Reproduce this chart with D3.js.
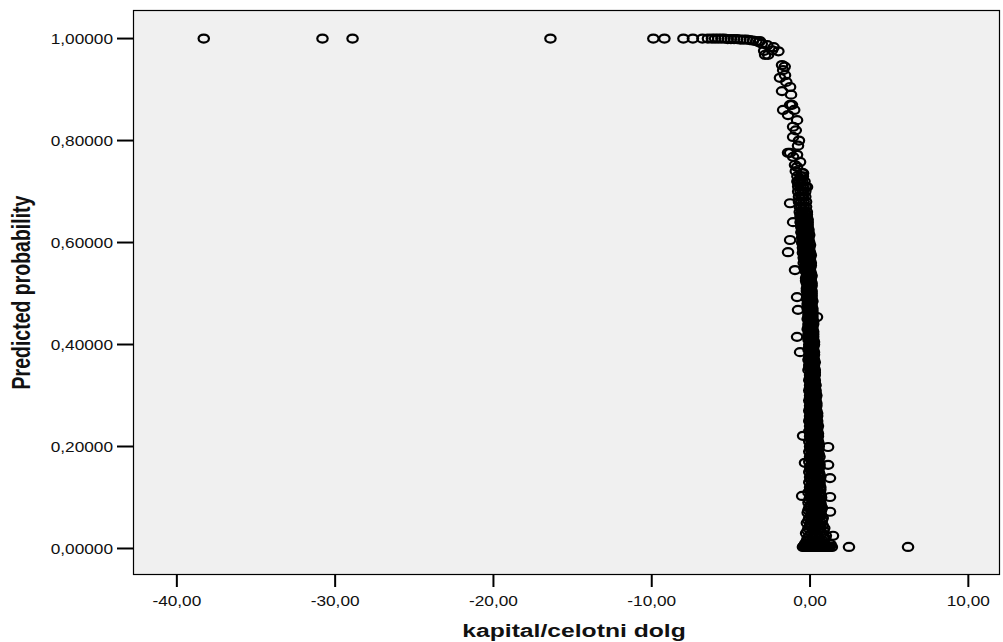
<!DOCTYPE html>
<html>
<head>
<meta charset="utf-8">
<script src="https://cdn.jsdelivr.net/npm/d3@7"></script>
<style>
  body { margin: 0; background: #fff; }
  text { font-family: "Liberation Sans", Arial, sans-serif; fill: #111; }
</style>
</head>
<body>
<svg id="chart" width="1003" height="642"></svg>
<script>
// isolated cases at the top plateau (kapital/celotni dolg, predicted probability)
var farLeft = [
  [-38.3, 1.000], [-30.8, 1.000], [-28.9, 1.000], [-16.4, 1.000],
  [-9.9, 1.000], [-9.2, 1.000], [-8.0, 1.000], [-7.4, 1.000], [-6.8, 1.000]
];

var plateau = [
  [-6.45, 1.000], [-6.2, 1.000], [-6.0, 1.000], [-5.8, 1.000], [-5.6, 1.000],
  [-5.4, 1.000], [-5.2, 0.999], [-5.0, 0.999], [-4.8, 0.999], [-4.6, 0.999],
  [-4.4, 0.998], [-4.2, 0.998], [-4.0, 0.998], [-3.8, 0.997], [-3.6, 0.996],
  [-3.4, 0.995], [-3.25, 0.993], [-3.05, 0.990]
];

var bend = [
  [-3.16, 0.995], [-2.9, 0.976], [-2.7, 0.987], [-2.65, 0.968], [-2.84, 0.968],
  [-2.4, 0.977], [-2.3, 0.983], [-2.0, 0.975], [-1.77, 0.948], [-1.6, 0.945],
  [-1.7, 0.938], [-1.9, 0.923], [-1.58, 0.928], [-1.5, 0.915], [-1.26, 0.905],
  [-1.77, 0.897], [-1.2, 0.890], [-1.26, 0.870], [-1.14, 0.870], [-1.7, 0.860],
  [-1.0, 0.860], [-1.39, 0.850], [-0.82, 0.840], [-1.07, 0.827], [-0.9, 0.820],
  [-1.07, 0.807], [-0.7, 0.800], [-0.76, 0.790], [-1.39, 0.776], [-1.26, 0.776],
  [-0.82, 0.772], [-1.07, 0.768], [-0.63, 0.758], [-0.95, 0.752], [-0.82, 0.748],
  [-0.9, 0.740], [-0.5, 0.736], [-0.44, 0.736], [-0.6, 0.725], [-0.76, 0.717],
  [-0.19, 0.709]
];

// dense column: [predicted probability, kapital values at that level]
var coreRows = [
  [0.01, -0.30, 0.05, 0.45, 0.85], [0.02, -0.15, 0.20, 0.55, 0.95],
  [0.03, -0.25, 0.10, 0.40, 0.75], [0.04, -0.10, 0.25, 0.60, 0.90],
  [0.05, -0.20, 0.05, 0.35, 0.70], [0.06, -0.05, 0.20, 0.50, 0.80],
  [0.07, -0.15, 0.10, 0.40, 0.65], [0.08, -0.05, 0.25, 0.50, 0.75],
  [0.09, -0.10, 0.15, 0.35, 0.65], [0.10, 0.00, 0.20, 0.45, 0.70],
  [0.11, -0.10, 0.10, 0.35, 0.60], [0.12, 0.00, 0.25, 0.45, 0.65],
  [0.13, -0.05, 0.15, 0.35, 0.60], [0.14, 0.00, 0.20, 0.40, 0.65],
  [0.15, -0.05, 0.10, 0.30, 0.55], [0.16, 0.00, 0.20, 0.40, 0.60],
  [0.17, -0.05, 0.15, 0.35, 0.55], [0.18, 0.00, 0.20, 0.40, 0.60],
  [0.19, -0.05, 0.10, 0.30, 0.50], [0.20, 0.00, 0.20, 0.35, 0.55],
  [0.21, -0.05, 0.10, 0.30, 0.50], [0.22, 0.00, 0.15, 0.35, 0.50],
  [0.23, -0.05, 0.10, 0.25, 0.45], [0.24, 0.00, 0.15, 0.30, 0.50],
  [0.25, -0.05, 0.10, 0.25, 0.45], [0.26, 0.00, 0.15, 0.30, 0.45],
  [0.27, -0.05, 0.05, 0.20, 0.40], [0.28, 0.00, 0.15, 0.25, 0.40],
  [0.29, -0.05, 0.05, 0.20, 0.35], [0.30, 0.00, 0.10, 0.25, 0.40],
  [0.31, -0.05, 0.05, 0.20, 0.35], [0.32, 0.00, 0.10, 0.20, 0.35],
  [0.33, -0.05, 0.05, 0.15, 0.30], [0.34, 0.00, 0.10, 0.20, 0.30],
  [0.35, -0.10, 0.05, 0.15, 0.30], [0.36, -0.05, 0.05, 0.15, 0.25],
  [0.37, -0.10, 0.00, 0.10, 0.25], [0.38, -0.05, 0.05, 0.15, 0.25],
  [0.39, -0.10, 0.00, 0.10, 0.20], [0.40, -0.05, 0.05, 0.15, 0.25],
  [0.41, -0.10, 0.00, 0.10, 0.20], [0.42, -0.10, 0.00, 0.10, 0.20],
  [0.43, -0.15, -0.05, 0.05, 0.15], [0.44, -0.10, 0.00, 0.10, 0.20],
  [0.45, -0.15, -0.05, 0.05, 0.15], [0.46, -0.10, 0.00, 0.10, 0.15],
  [0.47, -0.15, -0.05, 0.05, 0.15], [0.48, -0.15, -0.05, 0.05, 0.10],
  [0.49, -0.20, -0.10, 0.00, 0.10], [0.50, -0.15, -0.05, 0.05, 0.10],
  [0.51, -0.20, -0.10, 0.00, 0.05], [0.52, -0.20, -0.10, 0.00, 0.10],
  [0.53, -0.25, -0.15, -0.05, 0.05], [0.54, -0.20, -0.10, 0.00, 0.05],
  [0.55, -0.35, -0.25, -0.10, 0.00], [0.56, -0.40, -0.25, -0.10, 0.05],
  [0.57, -0.40, -0.30, -0.15, 0.00], [0.58, -0.45, -0.30, -0.15, 0.00],
  [0.59, -0.45, -0.35, -0.20, -0.05], [0.60, -0.50, -0.35, -0.20, -0.05],
  [0.61, -0.50, -0.40, -0.25, -0.10], [0.62, -0.55, -0.40, -0.25, -0.10],
  [0.63, -0.55, -0.45, -0.30, -0.15], [0.64, -0.60, -0.45, -0.30, -0.15],
  [0.65, -0.60, -0.50, -0.35, -0.20], [0.66, -0.65, -0.50, -0.35, -0.20],
  [0.67, -0.65, -0.55, -0.40, -0.25], [0.68, -0.70, -0.55, -0.40, -0.25],
  [0.69, -0.70, -0.55, -0.45, -0.30], [0.70, -0.75, -0.60, -0.45, -0.30],
  [0.71, -0.75, -0.60, -0.45, -0.30], [0.72, -0.80, -0.65, -0.50, -0.35],
  [0.73, -0.80, -0.60, -0.45]
];

// cases lying between the rows above
var coreHalfRows = [
  [0.005, -0.40, -0.10, 0.30, 0.65, 1.05], [0.015, -0.20, 0.15, 0.50, 0.80],
  [0.025, -0.05, 0.30, 0.65, 1.00], [0.035, -0.15, 0.20, 0.50, 0.85],
  [0.045, 0.00, 0.30, 0.55, 0.80], [0.055, -0.10, 0.15, 0.45, 0.75],
  [0.065, 0.05, 0.30, 0.55, 0.70], [0.075, -0.10, 0.20, 0.45, 0.70],
  [0.085, 0.05, 0.30, 0.55, 0.68], [0.095, -0.05, 0.20, 0.40, 0.60],
  [0.105, 0.10, 0.30, 0.55, 0.68], [0.115, 0.00, 0.20, 0.45, 0.65],
  [0.125, 0.10, 0.30, 0.50, 0.60], [0.135, 0.05, 0.25, 0.45, 0.55],
  [0.145, 0.10, 0.30, 0.50, 0.60], [0.155, 0.05, 0.20, 0.40, 0.50],
  [0.165, 0.10, 0.30, 0.45, 0.60], [0.175, 0.05, 0.25, 0.40, 0.50],
  [0.185, 0.10, 0.30, 0.45, 0.55], [0.195, 0.05, 0.20, 0.40, 0.50],
  [0.205, 0.10, 0.25, 0.40, 0.55], [0.215, 0.05, 0.20, 0.35, 0.45],
  [0.225, 0.05, 0.25, 0.40, 0.50], [0.235, 0.05, 0.20, 0.35, 0.45],
  [0.245, 0.05, 0.20, 0.35, 0.45], [0.255, 0.00, 0.20, 0.30, 0.40],
  [0.265, 0.05, 0.20, 0.35, 0.45], [0.275, 0.00, 0.10, 0.25, 0.35],
  [0.285, 0.05, 0.20, 0.30, 0.40], [0.295, 0.00, 0.15, 0.25, 0.35],
  [0.305, 0.05, 0.15, 0.30, 0.35], [0.315, 0.00, 0.10, 0.25, 0.30],
  [0.325, 0.05, 0.15, 0.25, 0.30], [0.335, 0.00, 0.10, 0.20, 0.25],
  [0.345, 0.05, 0.15, 0.25, 0.30], [0.355, -0.05, 0.10, 0.20, 0.25],
  [0.365, 0.00, 0.10, 0.20, 0.30], [0.375, -0.05, 0.05, 0.15, 0.20],
  [0.385, 0.00, 0.10, 0.20, 0.25], [0.395, -0.05, 0.05, 0.15, 0.20],
  [0.405, 0.00, 0.10, 0.20, 0.25], [0.415, -0.05, 0.05, 0.15, 0.20],
  [0.425, -0.05, 0.05, 0.15, 0.20], [0.435, -0.10, 0.00, 0.10, 0.15],
  [0.445, -0.05, 0.05, 0.15, 0.20], [0.455, -0.10, 0.00, 0.10, 0.15],
  [0.465, -0.10, 0.00, 0.10, 0.15], [0.475, -0.15, -0.05, 0.05, 0.10],
  [0.485, -0.10, 0.00, 0.05, 0.15], [0.495, -0.15, -0.05, 0.05, 0.10],
  [0.505, -0.20, -0.10, 0.00, 0.10], [0.515, -0.15, -0.05, 0.05, 0.10],
  [0.525, -0.25, -0.15, -0.05, 0.05], [0.535, -0.20, -0.10, 0.00, 0.10],
  [0.545, -0.30, -0.20, -0.10, 0.00], [0.555, -0.30, -0.20, -0.05, 0.05],
  [0.565, -0.35, -0.25, -0.10, 0.00], [0.575, -0.35, -0.25, -0.15, 0.05],
  [0.585, -0.40, -0.30, -0.15, -0.05], [0.595, -0.40, -0.30, -0.15, 0.00],
  [0.605, -0.45, -0.35, -0.20, -0.10], [0.615, -0.45, -0.35, -0.20, -0.05],
  [0.625, -0.50, -0.40, -0.25, -0.10], [0.635, -0.55, -0.40, -0.25, -0.15],
  [0.645, -0.55, -0.45, -0.30, -0.15], [0.655, -0.60, -0.45, -0.30, -0.20]
];

var bottomRow = [
  [-0.45, 0.003], [-0.35, 0.003], [-0.25, 0.003], [-0.15, 0.003], [-0.05, 0.003],
  [0.05, 0.003], [0.15, 0.003], [0.25, 0.003], [0.35, 0.003], [0.45, 0.003],
  [0.55, 0.003], [0.65, 0.003], [0.75, 0.003], [0.85, 0.003], [0.95, 0.003],
  [1.05, 0.003], [1.15, 0.003], [1.25, 0.003], [1.38, 0.003],
  [-0.30, 0.008], [0.10, 0.008], [0.50, 0.008], [0.90, 0.008], [1.30, 0.008],
  [2.46, 0.003], [6.19, 0.003]
];

var strays = [
  [-1.26, 0.677], [-1.07, 0.640], [-1.26, 0.605], [-1.39, 0.581], [-0.95, 0.546],
  [-0.82, 0.493], [-0.76, 0.468], [-0.82, 0.415], [-0.63, 0.385], [0.44, 0.454],
  [1.14, 0.199], [1.14, 0.164], [1.26, 0.138], [1.26, 0.101], [1.26, 0.072],
  [1.45, 0.025], [-0.44, 0.221], [-0.50, 0.103], [-0.32, 0.168]
];

var yTicks = [0, 0.2, 0.4, 0.6, 0.8, 1.0];
var xTicks = [-40, -30, -20, -10, 0, 10];

(function() {
    var points = farLeft.concat(plateau, bend, bottomRow, strays);
    coreRows.concat(coreHalfRows).forEach(function(row) {
        row.slice(1).forEach(function(v) { points.push([v, row[0]]); });
    });

    var svg = d3.select('#chart'),
        padL = 133, padT = 10, padR = 1000, padB = 575,
        tickStretch = 1.15,  // the reference text is drawn wider than it is tall
        titleStretch = 1.3;

    var x = d3.scaleLinear().domain([-42.77, 12.0]).range([padL, padR]),
        y = d3.scaleLinear().domain([-0.052, 1.056]).range([padB, padT]);

    // SPSS style: decimal comma, plain hyphen for minus
    var comma = function(f) {
        return function(v) { return d3.format(f)(v).replace('.', ',').replace('\u2212', '-'); };
    };

    svg.append('rect')
        .attr('x', padL).attr('y', padT)
        .attr('width', padR - padL).attr('height', padB - padT)
        .attr('fill', '#f0f0f0');

    svg.append('g').attr('class', 'points')
      .selectAll('ellipse')
        .data(points)
      .enter().append('ellipse')
        .attr('cx', function(d) { return x(d[0]); })
        .attr('cy', function(d) { return y(d[1]); })
        .attr('rx', 5.2).attr('ry', 4)
        .attr('fill', 'none')
        .attr('stroke', '#000')
        .attr('stroke-width', 2.2);

    svg.append('rect')
        .attr('x', padL + 0.5).attr('y', padT + 0.5)
        .attr('width', padR - padL - 1).attr('height', padB - padT - 1)
        .attr('fill', 'none').attr('stroke', '#000').attr('stroke-width', 1.2);

    // y axis
    var gy = svg.append('g').attr('class', 'y axis');
    gy.selectAll('line').data(yTicks).enter().append('line')
        .attr('x1', 117).attr('x2', padL)
        .attr('y1', function(d) { return y(d); }).attr('y2', function(d) { return y(d); })
        .attr('stroke', '#000').attr('stroke-width', 2);
    gy.selectAll('text').data(yTicks).enter().append('text')
        .attr('transform', function(d) { return 'translate(113,' + (y(d) + 5.5) + ') scale(' + tickStretch + ',1)'; })
        .attr('text-anchor', 'end')
        .style('font-size', '15px')
        .text(comma('.5f'));

    // x axis
    var gx = svg.append('g').attr('class', 'x axis');
    gx.selectAll('line').data(xTicks).enter().append('line')
        .attr('y1', padB).attr('y2', 587)
        .attr('x1', function(d) { return x(d); }).attr('x2', function(d) { return x(d); })
        .attr('stroke', '#000').attr('stroke-width', 2);
    gx.selectAll('text').data(xTicks).enter().append('text')
        .attr('transform', function(d) { return 'translate(' + x(d) + ',605.5) scale(' + tickStretch + ',1)'; })
        .attr('text-anchor', 'middle')
        .style('font-size', '15px')
        .text(comma('.2f'));

    svg.append('text')
        .attr('transform', 'translate(574,637) scale(' + titleStretch + ',1)')
        .attr('text-anchor', 'middle')
        .style('font-size', '19px').style('font-weight', 'bold')
        .text('kapital/celotni dolg');

    svg.append('text')
        .attr('transform', 'translate(29.5,' + ((padT + padB) / 2) + ') scale(' + titleStretch + ',1) rotate(-90)')
        .attr('text-anchor', 'middle')
        .style('font-size', '19.5px').style('font-weight', 'bold')
        .text('Predicted probability');
})();
</script>
</body>
</html>
